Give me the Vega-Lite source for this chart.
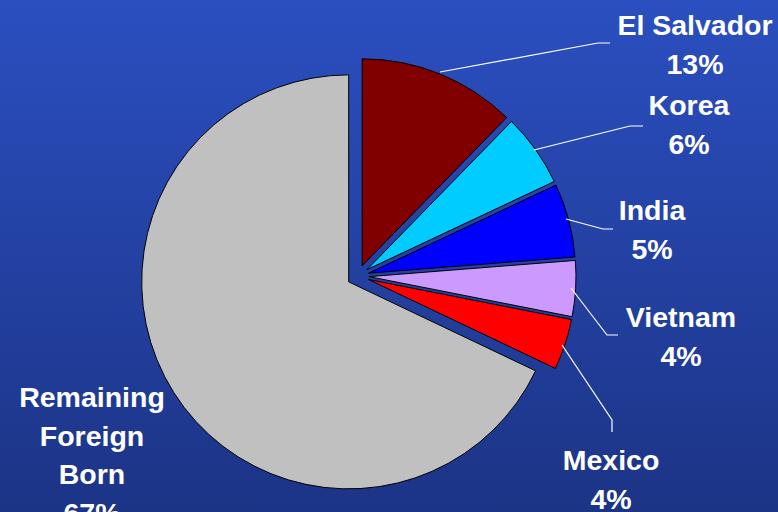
{
  "$schema": "https://vega.github.io/schema/vega-lite/v6.json",
  "width": 778,
  "height": 512,
  "padding": 0,
  "autosize": {"type": "none"},
  "background": "#2443A4",
  "config": {
    "view": {
      "stroke": null,
      "fill": {
        "gradient": "linear",
        "x1": 0, "y1": 0, "x2": 0, "y2": 1,
        "stops": [
          {"offset": 0, "color": "#2B4FC0"},
          {"offset": 1, "color": "#1C3486"}
        ]
      }
    },
    "text": {"lineBreak": "\n"}
  },
  "datasets": {
    "slices": [
      {"country": "El Salvador", "rank": 1, "share": 12.3},
      {"country": "Korea", "rank": 2, "share": 5.7},
      {"country": "India", "rank": 3, "share": 5.75},
      {"country": "Vietnam", "rank": 4, "share": 4.35},
      {"country": "Mexico", "rank": 5, "share": 3.97},
      {"country": "Remaining Foreign Born", "rank": 6, "share": 67.93}
    ],
    "labels": [
      {"label": "El Salvador\n13%", "lx": 337, "ly": 241},
      {"label": "Korea\n6%", "lx": 331, "ly": 161},
      {"label": "India\n5%", "lx": 294, "ly": 56},
      {"label": "Vietnam\n4%", "lx": 323, "ly": -51},
      {"label": "Mexico\n4%", "lx": 253, "ly": -194},
      {"label": "Remaining\nForeign\nBorn\n67%", "lx": -266, "ly": -131}
    ],
    "leaders": [
      {"country": "El Salvador", "step": 1, "lx": 82, "ly": 204},
      {"country": "El Salvador", "step": 2, "lx": 240, "ly": 233},
      {"country": "El Salvador", "step": 3, "lx": 252, "ly": 233},
      {"country": "Korea", "step": 1, "lx": 176, "ly": 126},
      {"country": "Korea", "step": 2, "lx": 272, "ly": 150},
      {"country": "Korea", "step": 3, "lx": 285, "ly": 150},
      {"country": "India", "step": 1, "lx": 208, "ly": 57},
      {"country": "India", "step": 2, "lx": 245, "ly": 47},
      {"country": "India", "step": 3, "lx": 255, "ly": 47},
      {"country": "Vietnam", "step": 1, "lx": 213, "ly": -12},
      {"country": "Vietnam", "step": 2, "lx": 249, "ly": -59},
      {"country": "Vietnam", "step": 3, "lx": 260, "ly": -59},
      {"country": "Mexico", "step": 1, "lx": 204, "ly": -69},
      {"country": "Mexico", "step": 2, "lx": 254, "ly": -144},
      {"country": "Mexico", "step": 3, "lx": 254, "ly": -156}
    ]
  },
  "layer": [
    {
      "data": {"name": "slices"},
      "mark": {
        "type": "arc",
        "radius": 207,
        "stroke": "#000000",
        "strokeWidth": 1,
        "xOffset": {"expr": "11*sin(scale('theta', 0.5*(datum.share_start + datum.share_end)))"},
        "yOffset": {"expr": "-11*cos(scale('theta', 0.5*(datum.share_start + datum.share_end)))"}
      },
      "encoding": {
        "x": {"datum": 0, "type": "quantitative", "scale": {"domain": [-358, 420], "nice": false, "zero": false}, "axis": null},
        "y": {"datum": 0, "type": "quantitative", "scale": {"domain": [-236, 276], "nice": false, "zero": false}, "axis": null},
        "theta": {"field": "share", "type": "quantitative", "stack": true},
        "order": {"field": "rank", "type": "quantitative"},
        "color": {
          "field": "country",
          "type": "nominal",
          "legend": null,
          "scale": {
            "domain": ["El Salvador", "Korea", "India", "Vietnam", "Mexico", "Remaining Foreign Born"],
            "range": ["#800000", "#00CCFF", "#0000FF", "#CC99FF", "#FF0000", "#C0C0C0"]
          }
        }
      }
    },
    {
      "data": {"name": "leaders"},
      "mark": {"type": "line", "color": "#FFFFFF", "strokeWidth": 1.2},
      "encoding": {
        "x": {"field": "lx", "type": "quantitative", "scale": {"domain": [-358, 420], "nice": false, "zero": false}, "axis": null},
        "y": {"field": "ly", "type": "quantitative", "scale": {"domain": [-236, 276], "nice": false, "zero": false}, "axis": null},
        "detail": {"field": "country"},
        "order": {"field": "step", "type": "quantitative"}
      }
    },
    {
      "data": {"name": "labels"},
      "mark": {
        "type": "text",
        "font": "Liberation Sans",
        "fontWeight": "bold",
        "fontSize": 28.5,
        "lineHeight": 38.5,
        "color": "#FFFFFF",
        "align": "center",
        "baseline": "alphabetic"
      },
      "encoding": {
        "x": {"field": "lx", "type": "quantitative", "scale": {"domain": [-358, 420], "nice": false, "zero": false}, "axis": null},
        "y": {"field": "ly", "type": "quantitative", "scale": {"domain": [-236, 276], "nice": false, "zero": false}, "axis": null},
        "text": {"field": "label"}
      }
    }
  ]
}
